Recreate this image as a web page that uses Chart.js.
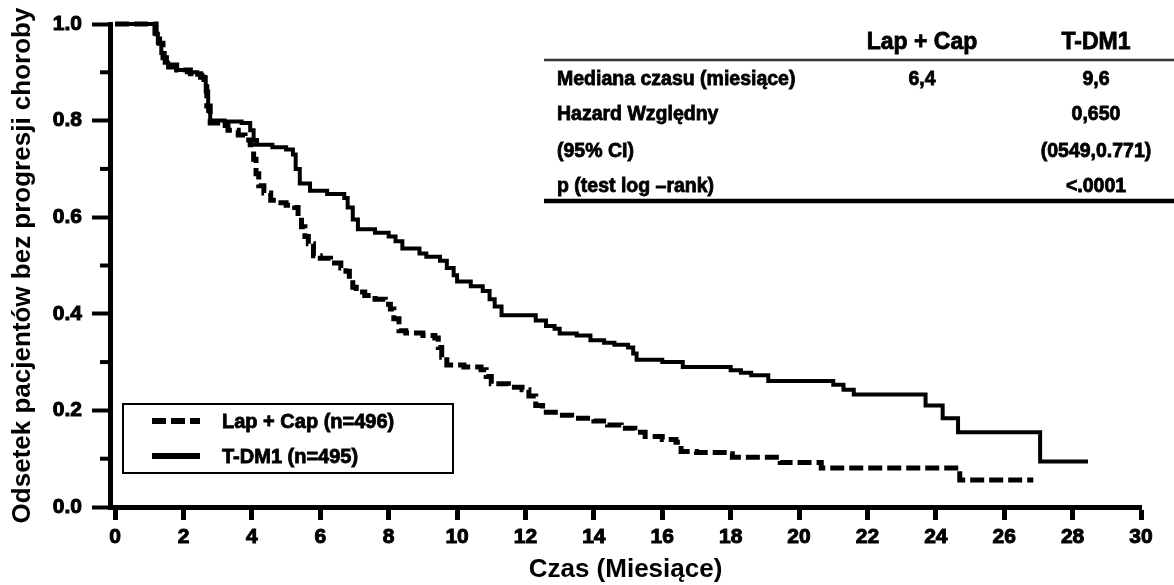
<!DOCTYPE html>
<html>
<head>
<meta charset="utf-8">
<title>PFS T-DM1 vs Lap + Cap</title>
<script src="https://cdn.jsdelivr.net/npm/chart.js@4/dist/chart.umd.min.js"></script>
<style>
  html, body { margin: 0; padding: 0; background: #fff; }
  #wrap { width: 1174px; height: 585px; }
</style>
</head>
<body>
<div id="wrap"><canvas id="km" width="1174" height="585"></canvas></div>
<script>
// months / proportion without progression
const lapCapMonths = [0, 1.2, 1.3, 1.4, 1.5, 1.8, 2.2, 2.5, 2.6, 2.68, 2.78, 3.0, 3.3, 3.6, 3.8, 3.95, 4.05, 4.12, 4.2, 4.35, 4.55, 4.7, 5.0, 5.25, 5.35, 5.45, 5.55, 5.65, 5.8, 6.0, 6.3, 6.6, 6.75, 6.85, 6.95, 7.05, 7.3, 7.6, 7.9, 8.05, 8.15, 8.3, 8.5, 9.0, 9.35, 9.45, 9.55, 9.7, 10.2, 10.7, 10.85, 11.0, 11.5, 11.9, 12.1, 12.3, 12.5, 13.0, 13.35, 14.0, 14.4, 14.8, 15.2, 15.5, 16.0, 16.4, 16.55, 17.0, 17.9, 18.05, 19.45, 20.65, 24.7, 26.85];
const lapCapSurv = [1.0, 0.98, 0.96, 0.93, 0.915, 0.905, 0.897, 0.89, 0.87, 0.83, 0.795, 0.79, 0.78, 0.77, 0.76, 0.75, 0.72, 0.69, 0.665, 0.65, 0.635, 0.63, 0.625, 0.62, 0.60, 0.58, 0.56, 0.545, 0.52, 0.515, 0.505, 0.495, 0.488, 0.47, 0.455, 0.445, 0.438, 0.43, 0.42, 0.41, 0.39, 0.365, 0.36, 0.355, 0.35, 0.33, 0.31, 0.294, 0.29, 0.284, 0.27, 0.255, 0.248, 0.243, 0.23, 0.21, 0.196, 0.19, 0.184, 0.178, 0.17, 0.163, 0.155, 0.146, 0.14, 0.134, 0.115, 0.113, 0.11, 0.103, 0.092, 0.081, 0.056, 0.056];

const tdm1Months = [0, 1.15, 1.25, 1.35, 1.45, 1.55, 1.8, 2.1, 2.4, 2.55, 2.65, 2.72, 2.78, 3.2, 3.7, 3.95, 4.05, 4.15, 4.6, 5.0, 5.2, 5.28, 5.4, 5.7, 6.2, 6.7, 6.8, 6.95, 7.1, 7.6, 8.0, 8.2, 8.4, 8.9, 9.1, 9.5, 9.7, 9.9, 10.0, 10.4, 10.75, 10.95, 11.1, 11.3, 12.3, 12.6, 12.85, 13.0, 13.5, 13.9, 14.3, 14.6, 15.0, 15.15, 15.25, 16.0, 16.6, 18.0, 18.3, 18.6, 19.1, 21.0, 21.3, 21.6, 23.7, 24.2, 24.65, 27.05, 28.45];
const tdm1Surv = [1.0, 0.98, 0.96, 0.94, 0.92, 0.91, 0.905, 0.90, 0.895, 0.89, 0.86, 0.82, 0.80, 0.798, 0.795, 0.78, 0.76, 0.75, 0.745, 0.74, 0.73, 0.70, 0.67, 0.655, 0.648, 0.64, 0.62, 0.595, 0.575, 0.568, 0.56, 0.55, 0.535, 0.525, 0.518, 0.51, 0.495, 0.48, 0.467, 0.457, 0.447, 0.43, 0.415, 0.397, 0.386, 0.375, 0.369, 0.359, 0.355, 0.345, 0.34, 0.336, 0.33, 0.318, 0.305, 0.300, 0.29, 0.283, 0.278, 0.273, 0.261, 0.253, 0.243, 0.233, 0.21, 0.184, 0.155, 0.094, 0.094];

const seriesLabels = ["Lap + Cap (n=496)", "T-DM1 (n=495)"];
const xTickValues = [0, 2, 4, 6, 8, 10, 12, 14, 16, 18, 20, 22, 24, 26, 28, 30];
const yTickLabels = ["0.0", "0.2", "0.4", "0.6", "0.8", "1.0"];
const yMinorTicks = [0.1, 0.3, 0.5, 0.7, 0.9];

const tableHeader = ["Lap + Cap", "T-DM1"];
const tableRows = [
	["Mediana czasu (miesiące)", "6,4", "9,6"],
	["Hazard Względny", "", "0,650"],
	["(95% CI)", "", "(0549,0.771)"],
	["p (test log \u2013rank)", "", "<.0001"],
];

const FONT = "'Liberation Sans', Arial, Helvetica, sans-serif";
Chart.defaults.font.family = FONT;
Chart.defaults.color = "#000";

function toPoints(xs, ys) {
	return xs.map((x, i) => ({ x: x, y: ys[i] }));
}

// heavier text like the scanned original
function boldText(ctx, text, x, y) {
	ctx.lineWidth = 0.8;
	ctx.strokeText(text, x, y);
	ctx.fillText(text, x, y);
}

// legend box, table and minor y ticks
const extrasPlugin = {
	id: "extras",
	afterDraw(chart) {
		const ctx = chart.ctx;
		const area = chart.chartArea;
		const yScale = chart.scales.y;
		ctx.save();

		// minor ticks on y axis
		ctx.strokeStyle = "#000";
		ctx.lineWidth = 4;
		yMinorTicks.forEach((v) => {
			const py = yScale.getPixelForValue(v);
			ctx.beginPath();
			ctx.moveTo(area.left - 10, py);
			ctx.lineTo(area.left, py);
			ctx.stroke();
		});

		// legend
		ctx.lineWidth = 2;
		ctx.strokeRect(123, 404, 330, 69);
		const rowsY = [421, 456];
		chart.data.datasets.forEach((ds, i) => {
			ctx.beginPath();
			ctx.lineWidth = 6;
			ctx.setLineDash(ds.borderDash || []);
			ctx.moveTo(152, rowsY[i]);
			ctx.lineTo(200, rowsY[i]);
			ctx.stroke();
			ctx.setLineDash([]);
			ctx.font = "bold 20px " + FONT;
			ctx.fillStyle = "#000";
			ctx.textAlign = "left";
			ctx.textBaseline = "middle";
			boldText(ctx, ds.label, 222, rowsY[i] + 1);
		});

		// table
		ctx.strokeStyle = "#333";
		ctx.lineWidth = 2.5;
		ctx.beginPath();
		ctx.moveTo(544, 60);
		ctx.lineTo(1174, 60);
		ctx.stroke();
		ctx.strokeStyle = "#000";
		ctx.lineWidth = 4.5;
		ctx.beginPath();
		ctx.moveTo(544, 201);
		ctx.lineTo(1174, 201);
		ctx.stroke();

		const colX = [922, 1096];
		ctx.textBaseline = "middle";
		ctx.textAlign = "center";
		ctx.font = "bold 23px " + FONT;
		tableHeader.forEach((h, i) => boldText(ctx, h, colX[i], 43));
		const rowY = [80, 115, 152, 187];
		ctx.font = "bold 19.5px " + FONT;
		tableRows.forEach((row, r) => {
			ctx.textAlign = "left";
			boldText(ctx, row[0], 557, rowY[r]);
			ctx.textAlign = "center";
			boldText(ctx, row[1], colX[0], rowY[r]);
			boldText(ctx, row[2], colX[1], rowY[r]);
		});
		ctx.restore();
	},
};

const config = {
	type: "line",
	data: {
		datasets: [
			{
				label: seriesLabels[0],
				data: toPoints(lapCapMonths, lapCapSurv),
				borderColor: "#000",
				borderWidth: 5,
				borderDash: [14, 5],
				stepped: "before",
				pointRadius: 0,
				fill: false,
				clip: false,
			},
			{
				label: seriesLabels[1],
				data: toPoints(tdm1Months, tdm1Surv),
				borderColor: "#000",
				borderWidth: 4,
				stepped: "before",
				pointRadius: 0,
				fill: false,
				clip: false,
			},
		],
	},
	options: {
		responsive: false,
		animation: false,
		devicePixelRatio: 1,
		layout: {
			padding: { top: 24, right: 33, left: 0, bottom: 0 },
		},
		plugins: {
			legend: { display: false },
			tooltip: { enabled: false },
		},
		scales: {
			x: {
				type: "linear",
				min: -0.15,
				max: 30,
				afterBuildTicks: (scale) => {
					scale.ticks = xTickValues.map((v) => ({ value: v }));
				},
				afterFit: (scale) => {
					scale.height = 78;
				},
				ticks: {
					font: { size: 21, weight: "bold" },
					padding: 5,
					maxRotation: 0,
					autoSkip: false,
					textStrokeColor: "#000",
					textStrokeWidth: 1,
					callback: (value) => String(value),
				},
				grid: {
					drawOnChartArea: false,
					drawTicks: true,
					tickLength: 13,
					tickWidth: 5,
					tickColor: "#000",
				},
				border: { display: true, color: "#000", width: 5 },
				title: {
					display: true,
					text: "Czas (Miesiące)",
					font: { size: 26, weight: "bold" },
					padding: { top: 0, bottom: 0 },
				},
			},
			y: {
				type: "linear",
				min: 0,
				max: 1,
				afterBuildTicks: (scale) => {
					scale.ticks = yTickLabels.map((t) => ({ value: parseFloat(t) }));
				},
				afterFit: (scale) => {
					scale.width = 110;
				},
				ticks: {
					font: { size: 21, weight: "bold" },
					padding: 10,
					textStrokeColor: "#000",
					textStrokeWidth: 1,
					callback: (value, index) => yTickLabels[index],
				},
				grid: {
					drawOnChartArea: false,
					drawTicks: true,
					tickLength: 18,
					tickWidth: 4,
					tickColor: "#000",
				},
				border: { display: true, color: "#000", width: 5 },
				title: {
					display: true,
					text: "Odsetek pacjentów bez progresji choroby",
					font: { size: 26, weight: "bold" },
					padding: { top: 7, bottom: 0 },
				},
			},
		},
	},
	plugins: [extrasPlugin],
};

new Chart(document.getElementById("km").getContext("2d"), config);
</script>
</body>
</html>
